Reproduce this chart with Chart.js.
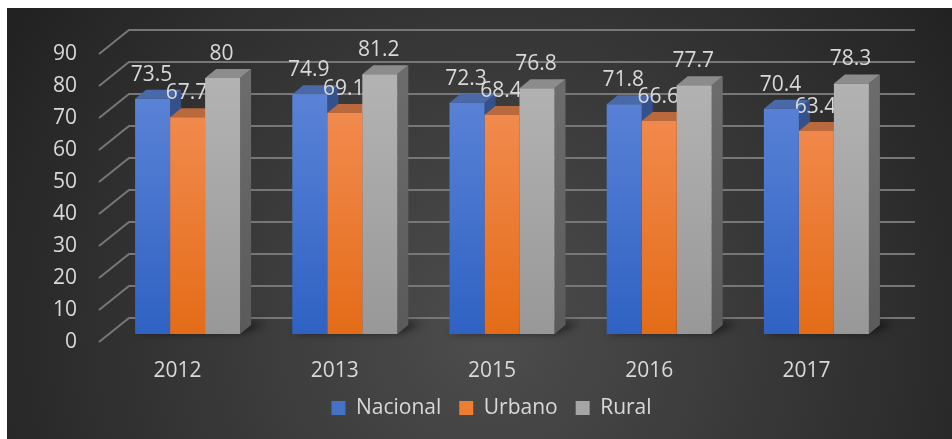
<!DOCTYPE html>
<html>
<head>
<meta charset="utf-8">
<script src="https://cdn.jsdelivr.net/npm/chart.js@4.4.0/dist/chart.umd.min.js"></script>
<style>
  html, body { margin: 0; padding: 0; background: #fff; }
  #wrap { width: 952px; height: 439px; position: relative; }
</style>
</head>
<body>
<div id="wrap"><canvas id="chart-3d"></canvas></div>
<script>
var years = ['2012', '2013', '2015', '2016', '2017'];
var nacional = [73.5, 74.9, 72.3, 71.8, 70.4];
var urbano = [67.7, 69.1, 68.4, 66.6, 63.4];
var rural = [80, 81.2, 76.8, 77.7, 78.3];
var seriesNames = ['Nacional', 'Urbano', 'Rural'];

var FONT = '"Open Sans", "Noto Sans", sans-serif';
var TEXT = '#d9d9d9';
var DX = 11, DY = -9;   // bar depth
var WX = 30, WY = -24;  // wall depth

var palette = [
  { top: '#5c84d7', bottom: '#2f62c3', cap: '#4a69a8', side: '#34518c', legend: '#4472c4' },
  { top: '#f38e55', bottom: '#e46c17', cap: '#b9693c', side: '#a65826', legend: '#ed7d31' },
  { top: '#b2b2b2', bottom: '#989898', cap: '#8c8c8c', side: '#6c6c6c', legend: '#a5a5a5' }
];

function frontFill(i) {
  return function (context) {
    var chart = context.chart;
    var area = chart.chartArea;
    if (!area) return palette[i].legend;
    var g = chart.ctx.createLinearGradient(0, area.top + 40, 0, area.bottom);
    g.addColorStop(0, palette[i].top);
    g.addColorStop(1, palette[i].bottom);
    return g;
  };
}

var backdrop = {
  id: 'backdrop',
  beforeDraw: function (chart) {
    var ctx = chart.ctx;
    ctx.save();
    ctx.fillStyle = '#ffffff';
    ctx.fillRect(0, 0, chart.width, chart.height);
    var g = ctx.createRadialGradient(490, 330, 0, 490, 330, 620);
    g.addColorStop(0, '#4d4d4d');
    g.addColorStop(1, '#1e1e1e');
    ctx.fillStyle = g;
    ctx.fillRect(7, 8, chart.width - 7, chart.height - 8);
    ctx.restore();
  }
};

var depth = {
  id: 'depth',
  beforeDatasetsDraw: function (chart) {
    var ctx = chart.ctx;
    var area = chart.chartArea;
    var y = chart.scales.y;
    ctx.save();

    // walls
    ctx.strokeStyle = '#777777';
    ctx.lineWidth = 2;
    y.ticks.forEach(function (t) {
      var py = y.getPixelForValue(t.value);
      ctx.beginPath();
      ctx.moveTo(area.left - 10, py + 8);
      ctx.lineTo(area.left - 10 + WX, py + 8 + WY);
      ctx.lineTo(area.right - 10 + WX, py + 8 + WY);
      ctx.stroke();
    });

    // floor shadows
    var first = chart.getDatasetMeta(0).data;
    var last = chart.getDatasetMeta(chart.data.datasets.length - 1).data;
    ctx.save();
    ctx.filter = 'blur(4px)';
    ctx.fillStyle = 'rgba(0,0,0,0.75)';
    first.forEach(function (bar, i) {
      var l = bar.x - bar.width / 2;
      var r = last[i].x + last[i].width / 2;
      var b = bar.base;
      ctx.beginPath();
      ctx.moveTo(l + 2, b - 2);
      ctx.lineTo(r + 2, b - 2);
      ctx.lineTo(r + DX + 14, b + DY - 2);
      ctx.lineTo(l + DX + 6, b + DY - 2);
      ctx.closePath();
      ctx.fill();
    });
    ctx.restore();

    // side and top faces, left to right
    years.forEach(function (yr, i) {
      chart.data.datasets.forEach(function (ds, d) {
        var bar = chart.getDatasetMeta(d).data[i];
        var l = bar.x - bar.width / 2;
        var r = bar.x + bar.width / 2;
        var t = bar.y;
        var b = bar.base;
        var sg = ctx.createLinearGradient(0, t, 0, b);
        sg.addColorStop(0, palette[d].side);
        sg.addColorStop(1, d === 2 ? '#5a5a5a' : palette[d].side);
        ctx.fillStyle = sg;
        ctx.beginPath();
        ctx.moveTo(r, t);
        ctx.lineTo(r + DX, t + DY);
        ctx.lineTo(r + DX, b + DY);
        ctx.lineTo(r, b);
        ctx.closePath();
        ctx.fill();
        ctx.fillStyle = palette[d].cap;
        ctx.beginPath();
        ctx.moveTo(l, t);
        ctx.lineTo(r, t);
        ctx.lineTo(r + DX, t + DY);
        ctx.lineTo(l + DX, t + DY);
        ctx.closePath();
        ctx.fill();
      });
    });

    // value labels
    ctx.font = '21px ' + FONT;
    ctx.fillStyle = TEXT;
    ctx.textAlign = 'center';
    ctx.textBaseline = 'middle';
    chart.data.datasets.forEach(function (ds, d) {
      chart.getDatasetMeta(d).data.forEach(function (bar, i) {
        ctx.fillText(String(ds.data[i]), bar.x - 1, bar.y - 24);
      });
    });
    ctx.restore();
  }
};

new Chart(document.getElementById('chart-3d'), {
  type: 'bar',
  data: {
    labels: years,
    datasets: [
      { label: seriesNames[0], data: nacional, backgroundColor: frontFill(0) },
      { label: seriesNames[1], data: urbano, backgroundColor: frontFill(1) },
      { label: seriesNames[2], data: rural, backgroundColor: frontFill(2) }
    ]
  },
  options: {
    responsive: true,
    maintainAspectRatio: false,
    animation: false,
    borderWidth: 0,
    categoryPercentage: 0.668,
    barPercentage: 1,
    layout: { padding: { left: 31, right: 0, top: 46, bottom: 10.5 } },
    scales: {
      x: {
        grid: { display: false, drawTicks: false },
        border: { display: false },
        ticks: {
          color: TEXT,
          padding: 24,
          labelOffset: -10,
          font: { family: FONT, size: 21 }
        },
        afterFit: function (scale) { scale.height = 45.5; }
      },
      y: {
        min: 0,
        max: 90,
        grid: { display: false, drawTicks: false },
        border: { display: false },
        ticks: {
          stepSize: 10,
          color: TEXT,
          padding: 32,
          labelOffset: 8,
          font: { family: FONT, size: 21 }
        },
        afterFit: function (scale) { scale.width = 78; }
      },
      y2: {
        position: 'right',
        grid: { display: false, drawTicks: false },
        border: { display: false },
        ticks: { display: false },
        afterFit: function (scale) { scale.width = 57; }
      }
    },
    plugins: {
      tooltip: { enabled: false },
      legend: {
        position: 'bottom',
        labels: {
          boxWidth: 14,
          boxHeight: 14,
          padding: 18,
          color: TEXT,
          font: { family: FONT, size: 21 },
          generateLabels: function (chart) {
            return chart.data.datasets.map(function (ds, i) {
              return {
                text: ds.label,
                fillStyle: palette[i].legend,
                strokeStyle: palette[i].legend,
                lineWidth: 0,
                fontColor: TEXT,
                hidden: false,
                datasetIndex: i
              };
            });
          }
        }
      }
    }
  },
  plugins: [backdrop, depth]
});
</script>
</body>
</html>
